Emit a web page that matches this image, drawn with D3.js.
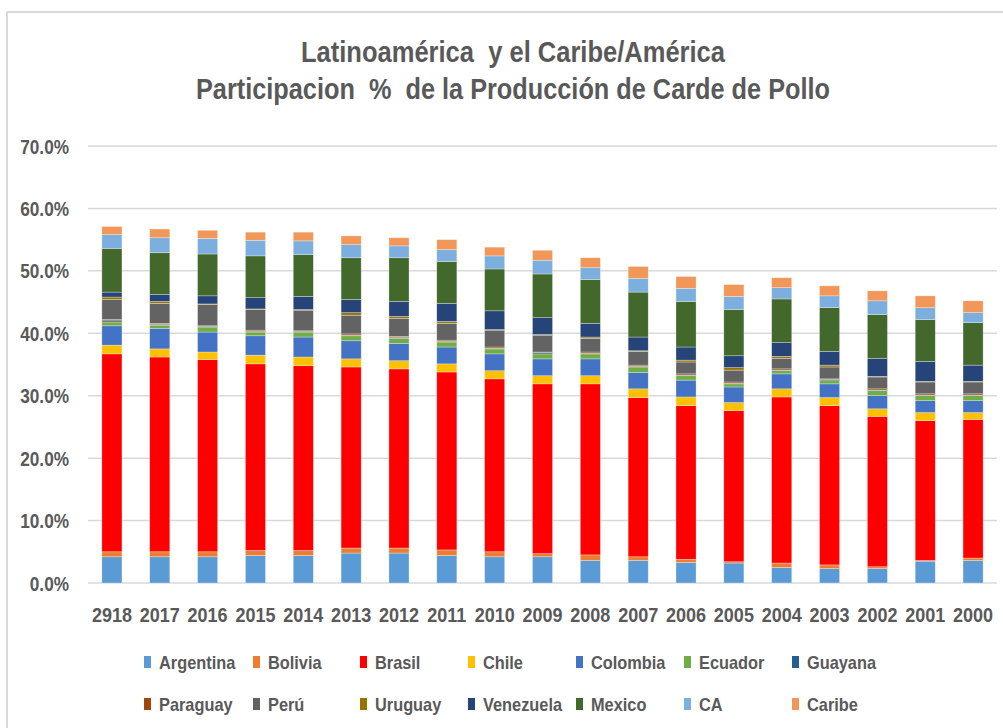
<!DOCTYPE html>
<html>
<head>
<meta charset="utf-8">
<script src="https://cdn.jsdelivr.net/npm/d3@7"></script>
<style>
  html, body { margin: 0; padding: 0; background: #fff; }
  svg { display: block; }
  text { font-family: "Liberation Sans", Arial, sans-serif; font-weight: bold; fill: #595959; }
  .title { white-space: pre; }
</style>
</head>
<body>
<svg id="chart" width="1003" height="728"></svg>
<script>
// ---- data ----
const years = ["2918","2017","2016","2015","2014","2013","2012","2011","2010","2009","2008","2007","2006","2005","2004","2003","2002","2001","2000"];
const seriesNames = ["Argentina","Bolivia","Brasil","Chile","Colombia","Ecuador","Guayana","Paraguay","Perú","Uruguay","Venezuela","Mexico","CA","Caribe"];
const seriesColors = ["#5B9BD5","#ED7D31","#FF0000","#FFC000","#4472C4","#70AD47","#255E91","#9E480E","#636363","#997300","#264478","#43682B","#7CAFDD","#F1975A"];
const argentina = [4.2,4.2,4.2,4.4,4.4,4.8,4.8,4.4,4.2,4.2,3.6,3.6,3.3,3.2,2.5,2.3,2.3,3.5,3.6];
const bolivia   = [0.8,0.8,0.8,0.8,0.8,0.8,0.8,0.9,0.8,0.5,0.9,0.6,0.5,0.2,0.7,0.6,0.3,0.1,0.4];
const brasil    = [31.7,31.2,30.8,29.9,29.6,29.0,28.7,28.5,27.7,27.2,27.4,25.5,24.6,24.2,26.6,25.5,24.1,22.4,22.2];
const chile     = [1.4,1.3,1.2,1.4,1.4,1.3,1.3,1.3,1.3,1.3,1.3,1.4,1.4,1.3,1.3,1.3,1.2,1.3,1.1];
const colombia  = [3.1,3.3,3.2,3.1,3.2,2.9,2.8,2.7,2.7,2.7,2.7,2.6,2.7,2.5,2.4,2.2,2.1,1.9,1.9];
const ecuador   = [0.6,0.5,0.8,0.6,0.8,0.8,0.8,0.8,0.8,0.8,0.8,0.9,0.7,0.5,0.5,0.5,0.8,0.8,0.8];
const guayana   = [0.2,0.1,0.1,0.1,0.1,0.1,0.1,0.1,0.1,0.2,0.1,0.1,0.1,0.1,0.1,0.2,0.1,0.1,0.1];
const paraguay  = [0.2,0.2,0.1,0.2,0.1,0.2,0.2,0.2,0.2,0.1,0.2,0.2,0.2,0.2,0.2,0.1,0.2,0.2,0.2];
const peru      = [3.2,3.2,3.4,3.3,3.3,3.0,2.9,2.7,2.7,2.7,2.2,2.2,1.9,1.9,1.7,1.9,1.9,1.9,1.9];
const uruguay   = [0.4,0.3,0.1,0.1,0.1,0.4,0.3,0.3,0.1,0.1,0.2,0.1,0.3,0.4,0.3,0.3,0.1,0.1,0.1];
const venezuela = [0.8,1.1,1.3,1.8,2.1,2.1,2.4,2.9,3.0,2.7,2.2,2.2,2.1,1.9,2.2,2.2,2.9,3.2,2.6];
const mexico    = [7.0,6.7,6.7,6.7,6.7,6.7,7.0,6.7,6.7,7.0,7.0,7.2,7.3,7.4,7.0,7.0,7.0,6.7,6.8];
const ca        = [2.2,2.4,2.5,2.5,2.2,2.1,1.9,1.9,2.1,2.2,1.9,2.2,2.1,2.1,1.8,1.9,2.2,1.9,1.6];
const caribe    = [1.3,1.4,1.3,1.3,1.4,1.4,1.3,1.6,1.4,1.6,1.6,1.9,1.9,1.9,1.6,1.6,1.6,1.9,1.9];
const yTicks = [0,10,20,30,40,50,60,70];
const titleLines = ["Latinoamérica  y el Caribe/América", "Participacion  %  de la Producción de Carde de Pollo"];

const seriesValues = [argentina,bolivia,brasil,chile,colombia,ecuador,guayana,paraguay,peru,uruguay,venezuela,mexico,ca,caribe];

// ---- build table ----
const table = years.map((y,i) => {
  const row = {year: y};
  seriesNames.forEach((s,k) => row[s] = seriesValues[k][i]);
  return row;
});
const stacked = d3.stack().keys(seriesNames)(table);

const svg = d3.select("#chart");

// frame lines
svg.append("line").attr("x1",7).attr("x2",1003).attr("y1",12).attr("y2",12).attr("stroke","#d9d9d9").attr("stroke-width",2);
svg.append("line").attr("x1",7).attr("x2",7).attr("y1",12).attr("y2",728).attr("stroke","#d9d9d9").attr("stroke-width",2);

const x = d3.scaleBand().domain(years).range([88, 997]).paddingInner(0.58).paddingOuter(0.29);
const y = d3.scaleLinear().domain([0,70]).range([583, 146]);

function condense(sel, k) {
  sel.each(function() {
    const w = this.getComputedTextLength();
    d3.select(this).attr("textLength", w * k).attr("lengthAdjust", "spacingAndGlyphs");
  });
}

// title
svg.append("text").attr("class","title").attr("x", 513).attr("y", 62).attr("text-anchor","middle")
  .style("font-size","29px").text(titleLines[0])
  .attr("textLength", 424).attr("lengthAdjust","spacingAndGlyphs");
svg.append("text").attr("class","title").attr("x", 513).attr("y", 99).attr("text-anchor","middle")
  .style("font-size","29px").text(titleLines[1])
  .attr("textLength", 634).attr("lengthAdjust","spacingAndGlyphs");

// gridlines
svg.append("g").selectAll("line").data(yTicks).join("line")
  .attr("x1", 88).attr("x2", 997)
  .attr("y1", d => y(d)).attr("y2", d => y(d))
  .attr("stroke", "#d9d9d9").attr("stroke-width", 1.5);

// y axis labels
const yAxis = svg.append("g").attr("transform","translate(69,0)")
  .call(d3.axisLeft(y).tickValues(yTicks).tickSize(0).tickPadding(0).tickFormat(d => d3.format(".1f")(d) + "%"));
yAxis.select(".domain").remove();
yAxis.selectAll("text").style("font-size","20px").style("font-family","Liberation Sans, Arial, sans-serif")
  .style("font-weight","bold").attr("fill","#595959").attr("dy","0.35em");
condense(yAxis.selectAll("text"), 0.86);

// bars
svg.append("g").selectAll("g").data(stacked).join("g")
  .attr("fill", (d,i) => seriesColors[i])
  .selectAll("rect").data(d => d).join("rect")
  .attr("x", d => x(d.data.year))
  .attr("width", x.bandwidth())
  .attr("y", d => y(d[1]))
  .attr("height", d => Math.max(0, y(d[0]) - y(d[1])))
  .attr("stroke", "#ffffff").attr("stroke-opacity", 0.5).attr("stroke-width", 0.6);

// x axis labels
const xAxis = svg.append("g").attr("transform","translate(0,583)")
  .call(d3.axisBottom(x).tickSize(0).tickPadding(0));
xAxis.select(".domain").remove();
xAxis.selectAll("text").style("font-size","20px").style("font-family","Liberation Sans, Arial, sans-serif")
  .style("font-weight","bold").attr("fill","#595959").attr("y", 0).attr("dy", "39px");
condense(xAxis.selectAll("text"), 0.9);

// legend
const colX = [144, 253, 360, 468, 576, 684, 792];
const rowY = [662, 704];
const leg = svg.append("g").selectAll("g").data(seriesNames).join("g")
  .attr("transform", (d,i) => `translate(${colX[i % 7]},${rowY[Math.floor(i / 7)]})`);
leg.append("rect").attr("x",0).attr("y",-6).attr("width",7).attr("height",12)
  .attr("fill",(d,i) => seriesColors[i]);
const legText = leg.append("text").attr("x",15).attr("y",0).attr("dy","0.36em")
  .style("font-size","19px").text(d => d);
condense(legText, 0.86);
</script>
</body>
</html>
